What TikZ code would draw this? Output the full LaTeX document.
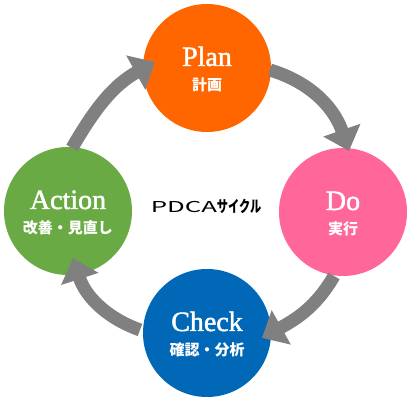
\documentclass[tikz,border=0pt]{standalone}
\usepackage{fontspec}
\setmainfont{Liberation Serif}
\newfontfamily\enf[FakeBold=1.6]{Liberation Serif}
\newfontfamily\jp{Noto Sans CJK JP}
\usetikzlibrary{arrows.meta,calc}
\definecolor{cplan}{RGB}{255,102,0}
\definecolor{cdo}{RGB}{255,102,153}
\definecolor{ccheck}{RGB}{0,104,183}
\definecolor{caction}{RGB}{106,170,68}
\definecolor{carrow}{RGB}{128,128,128}
\begin{document}
\begin{tikzpicture}[x=1pt,y=1pt,
  stage/.style={circle,minimum size=128pt,inner sep=0pt},
  en/.style={text=white,font=\enf\fontsize{28}{30}\selectfont,anchor=base,inner sep=0pt},
  ja/.style={text=white,font=\jp\bfseries\fontsize{15}{17}\selectfont,anchor=base,inner sep=0pt},
  cyc/.style={draw=carrow,line width=13pt,-{Triangle[length=22pt,width=38pt]}}]
\useasboundingbox[fill=white] (0,0) rectangle (413,-403);
% circles
\node[stage,fill=cplan]   (plan)   at (207,-68)  {};
\node[stage,fill=cdo]     (do)     at (343,-212) {};
\node[stage,fill=ccheck]  (check)  at (207,-333) {};
\node[stage,fill=caction] (action) at (68,-211)  {};
% labels
\node[en] (planen)   at ($(plan.center)+(0,2)$)   {Plan};
\node[ja] (planja)   at ($(plan.center)+(0,-23)$) {計画};
\node[en] (doen)     at ($(do.center)+(0,2)$)     {Do};
\node[ja] (doja)     at ($(do.center)+(0,-23)$)   {実行};
\node[en] (checken)  at ($(check.center)+(0,2)$)  {Check};
\node[ja] (checkja)  at ($(check.center)+(0,-23)$){確認・分析};
\node[en] (actionen) at ($(action.center)+(0,2)$) {Action};
\node[ja] (actionja) at ($(action.center)+(0,-23)$){改善・見直し};
% title
\node[font=\jp,inner sep=0pt,anchor=base] (title) at (206,-213)
  {\fontsize{15}{17}\selectfont\scalebox{1.72}[1]{PDCA}\bfseries\fontsize{16}{18}\selectfont\scalebox{0.7}[1]{サイクル}};
% arrow ends
\coordinate (t1) at ($(plan.center)+(-52,6)$);
\coordinate (t2) at ($(do.center)+(6,61)$);
\coordinate (t3) at ($(check.center)+(55,-5)$);
\coordinate (t4) at ($(action.center)+(5,-47)$);
\coordinate (s1) at ($(action.center)+(4,63)$);
\coordinate (s2) at ($(plan.center)+(63,-2)$);
\coordinate (s3) at ($(do.center)+(-9,-64)$);
\coordinate (s4) at ($(check.center)+(-67,3)$);
\draw[cyc] (s1) to[out=60,in=209] (t1);
\draw[cyc] (s2) to[out=-17,in=109] (t2);
\draw[cyc] (s3) to[out=240,in=29] (t3);
\draw[cyc] (s4) to[out=160,in=288] (t4);
\end{tikzpicture}
\end{document}
